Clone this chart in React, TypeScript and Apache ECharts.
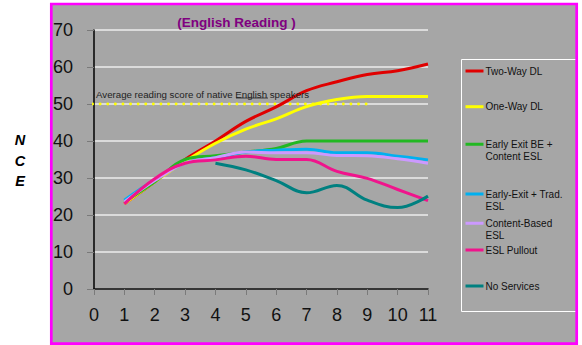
import React, { useEffect, useRef } from 'react';
import * as echarts from 'echarts';

const years = [1, 2, 3, 4, 5, 6, 7, 8, 9, 10, 11];
const seriesNames = [
  'Two-Way DL',
  'One-Way DL',
  'Early Exit BE +\nContent ESL',
  'Early-Exit + Trad.\nESL',
  'Content-Based\nESL',
  'ESL Pullout',
  'No Services',
];
const twoWayDL = [23, 29, 35, 40, 45.3, 49.2, 53.6, 56, 58, 59, 60.8];
const oneWayDL = [23, 29, 34.5, 39.4, 43.2, 46, 49.3, 51.2, 52, 52, 52];
const earlyExitContent = [23.5, 29, 35, 36, 37, 38, 40, 40, 40, 40, 40];
const earlyExitTrad = [24, 29.5, 34, 35.5, 37, 37.5, 37.8, 36.8, 36.8, 35.9, 34.9];
const contentBased = [23.5, 29.3, 34, 35.5, 37, 36.8, 36.8, 36.1, 36, 35.2, 34];
const eslPullout = [23, 29.8, 34, 34.9, 35.9, 35, 35, 31.8, 29.9, 26.9, 23.9];
const noServices = [null, null, null, 34, 32.2, 29.3, 26, 28, 24, 22, 25.1];
const seriesValues = [twoWayDL, oneWayDL, earlyExitContent, earlyExitTrad, contentBased, eslPullout, noServices];
const nativeAvgScore = 50;
const nativeAvgRange = [-0.3, 9];
const colors = ['#e00000', '#ffff00', '#22b822', '#00b0f0', '#cc99ff', '#f0148c', '#008080'];

const FONT = '"Liberation Sans", Arial, sans-serif';
const legendIconY = [71, 106.7, 144.3, 194, 223.3, 250, 286];
const LH = 12.5;

export default function App() {
  const ref = useRef<HTMLDivElement>(null);
  useEffect(() => {
    if (!ref.current) return;
    const chart = echarts.init(ref.current, undefined, { renderer: 'svg' });

    const lineSeries = seriesNames.map((name, i) => ({
      name,
      type: 'line',
      smooth: 0.4,
      showSymbol: false,
      symbol: 'none',
      connectNulls: false,
      lineStyle: { color: colors[i], width: 3 },
      itemStyle: { color: colors[i] },
      data: years.map((y, k) => [y, seriesValues[i][k]]).filter((p) => p[1] !== null),
      z: 3 + i,
    }));

    const legends = seriesNames.map((name, i) => {
      const multi = name.includes('\n');
      return {
        data: [name],
        left: 465.5,
        top: legendIconY[i] - LH / 2,
        padding: 0,
        orient: 'vertical',
        selectedMode: false,
        itemWidth: 18,
        itemHeight: multi ? 15.5 : 3,
        icon: multi ? 'path://M0,0H18V3H0Z M0,15.45H0.05V15.5H0Z' : 'rect',
        itemStyle: { borderWidth: 0 },
        textStyle: { fontFamily: FONT, fontSize: 10, color: '#111', lineHeight: LH, padding: [0, 0, 0, -3] },
      };
    });

    chart.setOption({
      animation: false,
      backgroundColor: 'transparent',
      grid: { left: 94, right: 154, top: 30, bottom: 56, containLabel: false },
      xAxis: {
        type: 'value',
        min: 0,
        max: 11,
        interval: 1,
        axisLine: { show: true, onZero: false, lineStyle: { color: '#000', width: 1.5 } },
        axisTick: { show: true, length: 6, lineStyle: { color: '#7a7a7a', width: 1 } },
        splitLine: { show: false },
        axisLabel: { fontFamily: FONT, fontSize: 18, color: '#111', margin: 17 },
      },
      yAxis: {
        type: 'value',
        min: 0,
        max: 70,
        interval: 10,
        axisLine: { show: true, lineStyle: { color: '#000', width: 1.5 } },
        axisTick: { show: true, length: 7, lineStyle: { color: '#7a7a7a', width: 1 } },
        splitLine: { show: true, lineStyle: { color: '#ececec', width: 1.5 } },
        axisLabel: { fontFamily: FONT, fontSize: 18, color: '#111', margin: 21 },
      },
      legend: legends,
      series: [
        {
          name: 'native-average',
          type: 'line',
          silent: true,
          clip: false,
          showSymbol: false,
          symbol: 'none',
          lineStyle: { color: '#ffff00', width: 2.8, type: [0.1, 7.5], cap: 'round' },
          data: nativeAvgRange.map((x) => [x, nativeAvgScore]),
          z: 2,
        },
        ...lineSeries,
      ],
      graphic: [
        {
          type: 'rect',
          z: -100,
          silent: true,
          shape: { x: 51.3, y: 4, width: 525.4, height: 339.7 },
          style: { fill: '#a6a6a6' },
        },
        {
          type: 'rect',
          z: 50,
          silent: true,
          shape: { x: 461.5, y: 59.5, width: 130, height: 252 },
          style: { fill: 'none', stroke: '#ffffff', lineWidth: 1 },
        },
        {
          type: 'rect',
          z: 100,
          silent: true,
          shape: { x: 51.3, y: 4, width: 525.4, height: 339.7 },
          style: { fill: 'none', stroke: '#ff00ff', lineWidth: 2.7 },
        },
        {
          type: 'text',
          z: 60,
          x: 236.5,
          y: 22,
          style: {
            text: '(English Reading )',
            fontFamily: FONT,
            fontSize: 13.5,
            fontWeight: 'bold',
            fill: '#800080',
            align: 'center',
            verticalAlign: 'middle',
          },
        },
        {
          type: 'text',
          z: 60,
          x: 20,
          y: 160.5,
          style: {
            text: 'N\nC\nE',
            fontFamily: FONT,
            fontSize: 14.5,
            fontWeight: 'bold',
            fontStyle: 'italic',
            lineHeight: 20.5,
            fill: '#000',
            align: 'center',
            verticalAlign: 'middle',
          },
        },
        {
          type: 'text',
          z: 60,
          x: 96,
          y: 94,
          style: {
            text: 'Average reading score of native English speakers',
            fontFamily: FONT,
            fontSize: 9.7,
            fill: '#222',
            align: 'left',
            verticalAlign: 'middle',
          },
        },
        {
          type: 'line',
          z: 60,
          silent: true,
          shape: { x1: 236, y1: 98, x2: 268, y2: 98 },
          style: { stroke: '#222', lineWidth: 0.8 },
        },
      ],
    });
    return () => chart.dispose();
  }, []);
  return (
    <div
      ref={ref}
      style={{ position: 'fixed', left: 0, top: 0, width: 582, height: 345, background: '#fff' }}
    />
  );
}
